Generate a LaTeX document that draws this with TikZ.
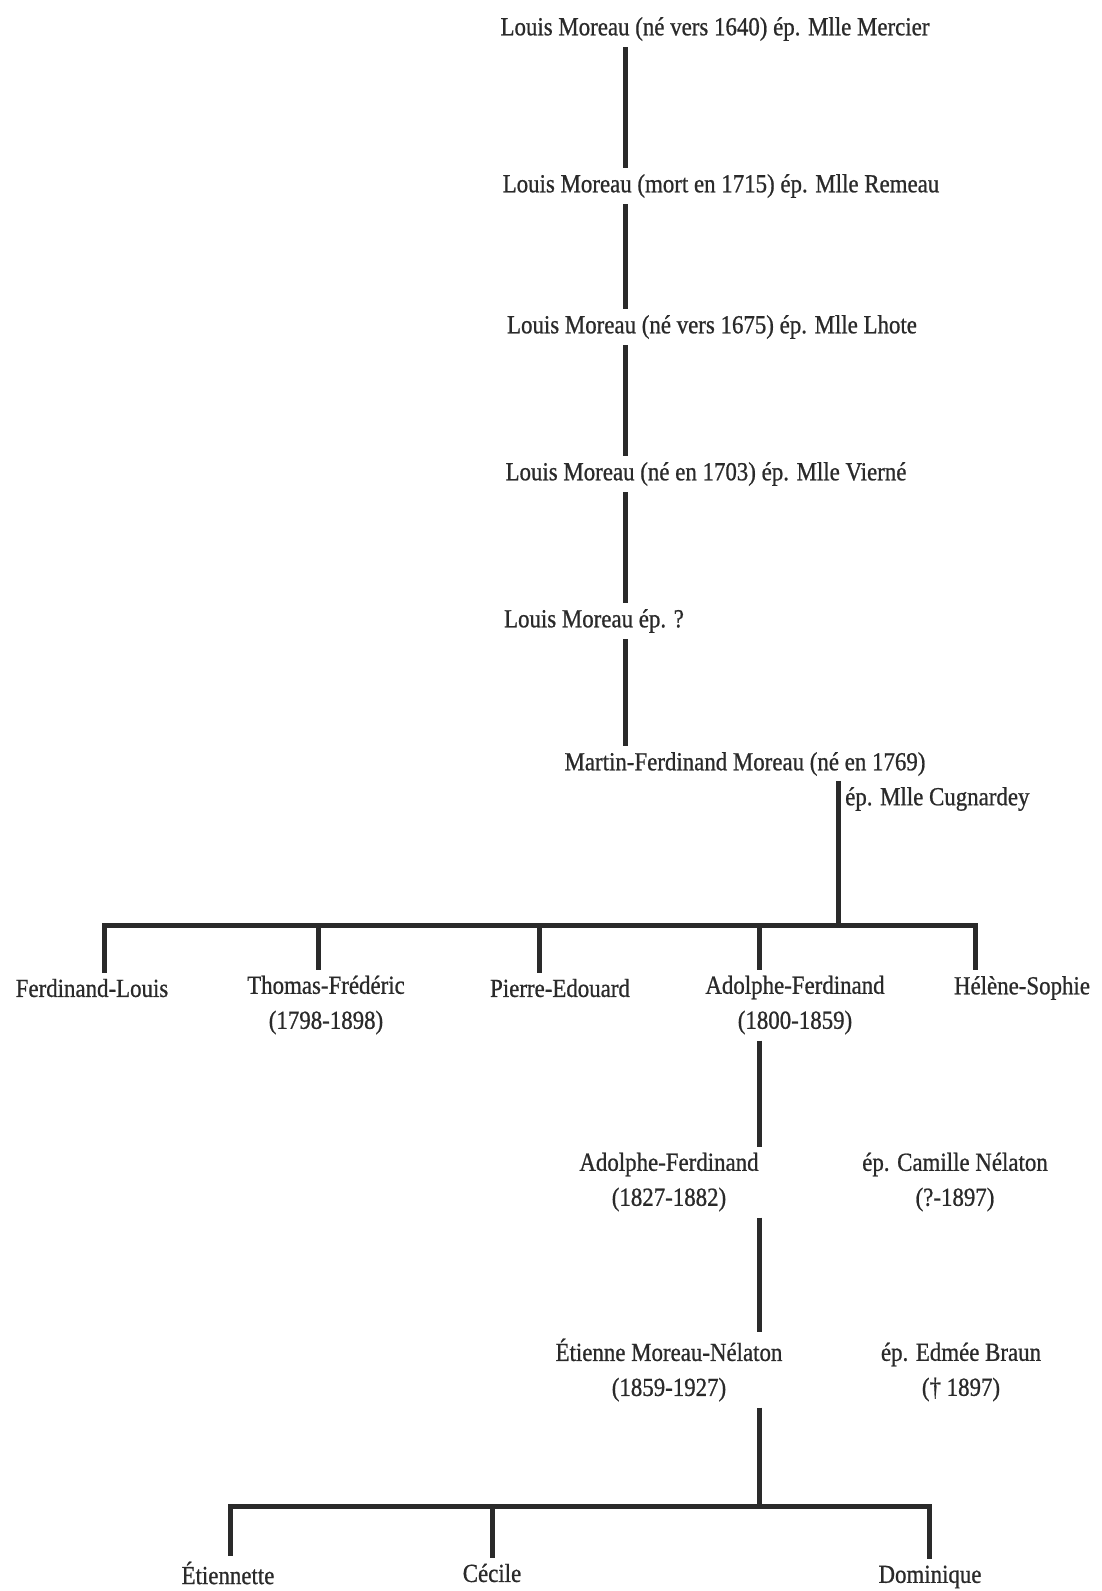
\documentclass[tikz,border=0pt]{standalone}
\usepackage{fontspec}
\setmainfont{Liberation Serif}[FakeStretch=0.88,FakeBold=0.8]
\definecolor{ink}{RGB}{42,42,42}
\begin{document}
\begin{tikzpicture}[x=1pt,y=-1pt,
  every node/.style={text=ink, font=\fontsize{26}{35}\selectfont, inner xsep=2pt, inner ysep=6pt, align=center},
  link/.style={draw=ink, line width=5pt, line join=miter},
  drop/.style={link}]
\useasboundingbox (0,0) rectangle (1101,1591);

% ancestors
\node (g1) at (715,29)  {Louis Moreau (né vers 1640) ép. Mlle Mercier};
\node (g2) at (721,186) {Louis Moreau (mort en 1715) ép. Mlle Remeau};
\node (g3) at (712,327) {Louis Moreau (né vers 1675) ép. Mlle Lhote};
\node (g4) at (706,474) {Louis Moreau (né en 1703) ép. Mlle Vierné};
\node (g5) at (594,621) {Louis Moreau ép. ?};
\node (g6) at (745,764) {Martin-Ferdinand Moreau (né en 1769)};
\node[anchor=west] (g6s) at (843,799) {ép. Mlle Cugnardey};

\coordinate (axis) at (625,0);
\draw[link] (g1.south -| axis) -- (g2.north -| axis);
\draw[link] (g2.south -| axis) -- (g3.north -| axis);
\draw[link] (g3.south -| axis) -- (g4.north -| axis);
\draw[link] (g4.south -| axis) -- (g5.north -| axis);
\draw[link] (g5.south -| axis) -- (g6.north -| axis);

% children of Martin-Ferdinand
\node (c1) at (92,988)   {Ferdinand-Louis};
\node (c2) at (326,1005) {Thomas-Frédéric\\(1798-1898)};
\node (c3) at (560,988)  {Pierre-Edouard};
\node (c4) at (795,1005) {Adolphe-Ferdinand\\(1800-1859)};
\node (c5) at (1022,988) {Hélène-Sophie};

\coordinate (j1) at (838,925);
\coordinate (k1) at (104,925);
\coordinate (k2) at (318,925);
\coordinate (k3) at (539,925);
\coordinate (k4) at (759,925);
\coordinate (k5) at (975,925);

\draw[link] (g6s.north west -| j1) -- (j1);
\draw[drop] (c1.north -| k1) -- (k1) -- (k5) -- (c5.north -| k5);
\draw[drop] (k2) -- (c2.north -| k2);
\draw[drop] (k3) -- (c3.north -| k3);
\draw[drop] (k4) -- (c4.north -| k4);

% Adolphe-Ferdinand line
\node (af) at (669,1182) {Adolphe-Ferdinand\\(1827-1882)};
\node (sp1) at (955,1182) {ép. Camille Nélaton\\(?-1897)};
\node (et) at (669,1370) {Étienne Moreau-Nélaton\\(1859-1927)};
\node (sp2) at (961,1372) {ép. Edmée Braun\\(† 1897)};

\draw[link] (c4.south -| k4) -- (af.north -| k4);
\draw[link] (af.south -| k4) -- (et.north -| k4);

% grandchildren
\node (e1) at (228,1573) {Étiennette};
\node (e2) at (492,1573) {Cécile};
\node (e3) at (930,1577) {Dominique};

\coordinate (j2) at (759,1506);
\coordinate (m1) at (230,1506);
\coordinate (m2) at (492,1506);
\coordinate (m3) at (929,1506);

\draw[link] (et.south -| j2) -- (j2);
\draw[drop] (e1.north -| m1) -- (m1) -- (m3) -- (e3.north -| m3);
\draw[drop] (m2) -- (e2.north -| m2);
\end{tikzpicture}
\end{document}
